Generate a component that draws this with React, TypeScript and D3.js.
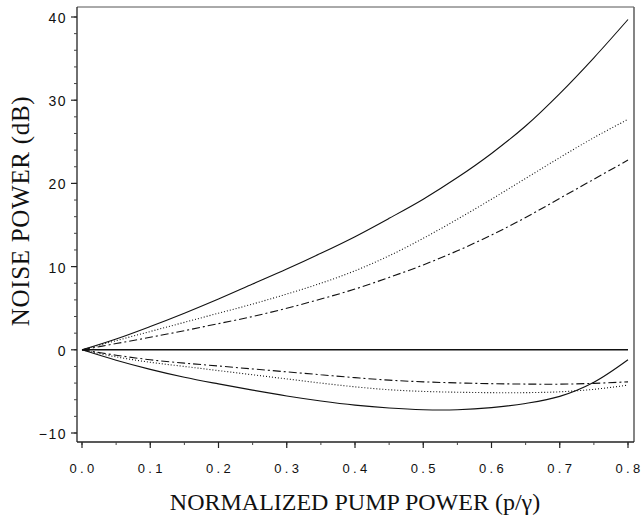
import React from "react";
import * as d3 from "d3";

const pump = [0, 0.05, 0.1, 0.15, 0.2, 0.25, 0.3, 0.35, 0.4, 0.45, 0.5, 0.55, 0.6, 0.65, 0.7, 0.75, 0.8];
const upperSolid = [0, 1.3, 2.8, 4.4, 6.1, 7.9, 9.7, 11.6, 13.6, 15.8, 18.1, 20.7, 23.6, 26.9, 30.8, 35.1, 39.7];
const upperDotted = [0, 1.1, 2.2, 3.3, 4.4, 5.5, 6.7, 8.0, 9.5, 11.3, 13.4, 15.7, 18.1, 20.6, 23.1, 25.5, 27.7];
const upperDashDot = [0, 0.75, 1.5, 2.3, 3.15, 4.0, 5.0, 6.1, 7.3, 8.7, 10.2, 11.9, 13.8, 15.9, 18.2, 20.5, 22.8];
const zeroLine = [0, 0, 0, 0, 0, 0, 0, 0, 0, 0, 0, 0, 0, 0, 0, 0, 0];
const lowerSolid = [0, -1.25, -2.35, -3.3, -4.1, -4.85, -5.55, -6.15, -6.65, -7.0, -7.2, -7.2, -6.95, -6.45, -5.6, -3.9, -1.2];
const lowerDotted = [0, -0.85, -1.5, -2.0, -2.5, -3.0, -3.5, -4.0, -4.45, -4.8, -5.0, -5.1, -5.15, -5.15, -5.05, -4.75, -4.25];
const lowerDashDot = [0, -0.65, -1.2, -1.6, -1.95, -2.3, -2.65, -3.0, -3.35, -3.65, -3.85, -3.98, -4.07, -4.12, -4.13, -4.03, -3.85];

const xTicks = [0, 0.1, 0.2, 0.3, 0.4, 0.5, 0.6, 0.7, 0.8];
const yTicks = [-10, 0, 10, 20, 30, 40];

const series = [
  { values: upperSolid, dash: "none" },
  { values: upperDotted, dash: "1,2" },
  { values: upperDashDot, dash: "8,3,2,3" },
  { values: zeroLine, dash: "none" },
  { values: lowerSolid, dash: "none" },
  { values: lowerDotted, dash: "1,2" },
  { values: lowerDashDot, dash: "8,3,2,3" },
];

export default function App() {
  const W = 643, H = 518;
  const left = 77, right = 634, top = 7, bottom = 442;
  const x = d3.scaleLinear().domain([0, 0.8]).range([82, 628]);
  const y = d3.scaleLinear().domain([-10, 40]).range([433, 17]);
  const line = d3
    .line<number>()
    .x((_, i) => x(pump[i]))
    .y((d) => y(d))
    .curve(d3.curveCatmullRom.alpha(0.5));

  const xMinor = d3.range(0, 0.8001, 0.05);
  const yMinor = d3.range(-10, 40.001, 2);

  return (
    <svg width={W} height={H} style={{ position: "absolute", left: 0, top: 0, background: "#fff" }}>
      <rect x={0} y={0} width={W} height={H} fill="#fff" />
      {/* frame */}
      <line x1={left} x2={right} y1={top} y2={top} stroke="#555" strokeWidth={1} />
      <line x1={right} x2={right} y1={top} y2={bottom} stroke="#666" strokeWidth={1.6} />
      <line x1={left} x2={left} y1={top} y2={bottom} stroke="#222" strokeWidth={1.3} />
      <line x1={left} x2={right} y1={bottom} y2={bottom} stroke="#222" strokeWidth={1.3} />
      {/* y ticks */}
      {yMinor.map((v) => (
        <line key={"ym" + v} x1={left - 3} x2={left} y1={y(v)} y2={y(v)} stroke="#444" strokeWidth={1} />
      ))}
      {yTicks.map((v) => (
        <g key={"y" + v}>
          <line x1={left - 6} x2={left} y1={y(v)} y2={y(v)} stroke="#222" strokeWidth={1.2} />
          <text
            x={left - 10}
            y={y(v) + 1}
            textAnchor="end"
            dominantBaseline="central"
            fontFamily="Liberation Sans, Arial, sans-serif"
            fontSize={14}
            letterSpacing={1.5}
            fill="#111"
          >
            {v < 0 ? "\u2212" + Math.abs(v) : String(v)}
          </text>
        </g>
      ))}
      {/* x ticks */}
      {xMinor.map((v) => (
        <line key={"xm" + v} x1={x(v)} x2={x(v)} y1={bottom} y2={bottom + 3} stroke="#444" strokeWidth={1} />
      ))}
      {xTicks.map((v) => (
        <g key={"x" + v}>
          <line x1={x(v)} x2={x(v)} y1={bottom} y2={bottom + 6} stroke="#222" strokeWidth={1.2} />
          <text
            x={x(v) + 1.5}
            y={473}
            textAnchor="middle"
            fontFamily="Liberation Sans, Arial, sans-serif"
            fontSize={13}
            letterSpacing={3.3}
            fill="#111"
          >
            {v.toFixed(1)}
          </text>
        </g>
      ))}
      {/* curves */}
      {series.map((s, i) => (
        <path
          key={i}
          d={line(s.values) || ""}
          fill="none"
          stroke="#111"
          strokeWidth={i === 3 ? 1.4 : 1.1}
          strokeDasharray={s.dash}
        />
      ))}
      {/* axis titles */}
      <text
        x={355}
        y={510}
        textAnchor="middle"
        fontFamily="Liberation Serif, Times New Roman, serif"
        fontSize={24}
        fill="#111"
      >
        NORMALIZED PUMP POWER (p/γ)
      </text>
      <text
        transform="translate(29,211) rotate(-90)"
        textAnchor="middle"
        fontFamily="Liberation Serif, Times New Roman, serif"
        fontSize={25}
        letterSpacing={0.7}
        fill="#111"
      >
        NOISE POWER (dB)
      </text>
    </svg>
  );
}
